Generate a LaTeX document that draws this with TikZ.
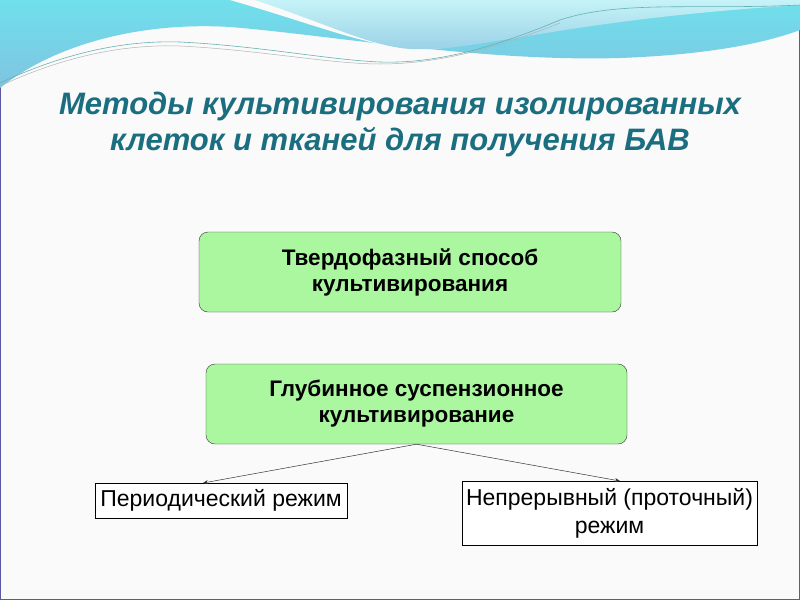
\documentclass[tikz,border=0pt]{standalone}
\usepackage{fontspec}
\setmainfont{Liberation Sans}
\usetikzlibrary{arrows.meta}
\definecolor{titlec}{HTML}{1B6E80}
\definecolor{boxg}{HTML}{AAF7A0}
\definecolor{wave1}{HTML}{7FC4E0}
\definecolor{wave2}{HTML}{6FE0EC}
\begin{document}
\begin{tikzpicture}[x=1pt,y=-1pt,
  bigbox/.style={draw=black!80,fill=boxg,rounded corners=9pt,minimum width=#1,minimum height=80pt,align=center,font=\fontsize{22.5}{26}\selectfont\bfseries,inner sep=0pt},
  smallbox/.style={draw=black,fill=white,align=center,font=\fontsize{23}{28}\selectfont,inner sep=0pt,line width=0.8pt},
  conn/.style={-{Stealth[length=5pt,width=4pt]},line width=0.5pt,black!80}]
\useasboundingbox (0,0) rectangle (800,600);
\fill[white!96!gray] (0,0) rectangle (800,600);
\draw[gray!70!blue,line width=1pt] (0.5,0.5) rectangle (799.5,599.5);
% waves
\shade[left color=wave2,right color=wave1,shading angle=0] (0,0) -- (0,88) .. controls (60,40) and (150,22) .. (230,27) .. controls (330,35) and (480,62) .. (620,58) .. controls (700,55) and (760,45) .. (800,30) -- (800,0) -- cycle;
\fill[white!96!gray] (230,0) .. controls (300,20) and (350,40) .. (400,48) .. controls (440,52) and (470,45) .. (520,30) -- (520,0) -- cycle;
\shade[top color=wave2!40,bottom color=wave1!80] (255,0) .. controls (330,25) and (370,46) .. (410,49) .. controls (480,52) and (560,20) .. (800,5) -- (800,0) -- cycle;
\draw[teal!60,line width=0.6pt] (0,83) .. controls (60,55) and (120,40) .. (180,42) .. controls (260,46) and (330,60) .. (380,62) .. controls (440,64) and (500,45) .. (560,20) .. controls (620,0) and (700,10) .. (800,5);
\draw[gray!60,line width=0.5pt] (0,86) .. controls (60,58) and (120,44) .. (180,46) .. controls (260,50) and (330,64) .. (380,64) .. controls (440,64) and (500,47) .. (560,23);
% title
\node[text=titlec,font=\fontsize{31}{36}\selectfont\bfseries\itshape,align=center] (title) at (400,124) {Методы культивирования изолированных\\клеток и тканей для получения БАВ};
\node[bigbox=422pt] (b1) at (410,272) {Твердофазный способ\\культивирования};
\node[bigbox=421pt] (b2) at (416.5,404) {Глубинное суспензионное\\культивирование};
\node[smallbox,minimum width=252pt,minimum height=35pt] (p) at (221,500.5) {Периодический режим};
\node[smallbox,minimum width=295pt,minimum height=64pt] (n) at (609.5,513) {Непрерывный (проточный)\\режим};
\draw[conn] (b2.south) -- (203,483);
\draw[conn] (b2.south) -- (620,481);
\end{tikzpicture}
\end{document}
